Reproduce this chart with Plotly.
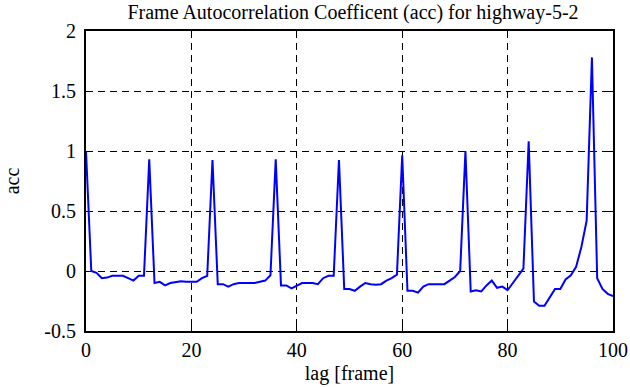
import plotly.graph_objects as go

lags = list(range(0, 101))
acc = [
    1.00, 0.00, -0.015, -0.06, -0.055, -0.04, -0.04, -0.04, -0.06, -0.08,
    -0.04, -0.04, 0.93, -0.10, -0.09, -0.12, -0.10, -0.09, -0.085, -0.09,
    -0.09, -0.09, -0.06, -0.04, 0.925, -0.11, -0.11, -0.13, -0.11, -0.10,
    -0.10, -0.10, -0.10, -0.09, -0.08, -0.035, 0.93, -0.12, -0.12, -0.145,
    -0.12, -0.10, -0.10, -0.10, -0.11, -0.06, -0.04, -0.04, 0.925, -0.15,
    -0.15, -0.165, -0.13, -0.10, -0.11, -0.115, -0.11, -0.08, -0.06, -0.03,
    0.965, -0.165, -0.165, -0.18, -0.13, -0.11, -0.11, -0.11, -0.11, -0.08,
    -0.05, 0.00, 1.00, -0.17, -0.16, -0.17, -0.12, -0.08, -0.14, -0.13,
    -0.16, -0.10, -0.035, 0.02, 1.08, -0.255, -0.29, -0.29, -0.22, -0.15,
    -0.15, -0.07, -0.035, 0.035, 0.20, 0.42, 1.78, -0.06, -0.15, -0.19,
    -0.21,
]
x_ticks = [0, 20, 40, 60, 80, 100]
y_ticks = [-0.5, 0, 0.5, 1, 1.5, 2]
y_tick_labels = ["-0.5", "0", "0.5", "1", "1.5", "2"]

serif = "Liberation Serif"
f20 = dict(family=serif, size=20, color="black")

fig = go.Figure()
fig.add_trace(go.Scatter(x=lags, y=acc, mode="lines",
                         line=dict(color="#0000ff", width=2)))

fig.update_layout(
    width=630, height=387,
    margin=dict(l=86, r=17, t=31, b=56, autoexpand=False),
    paper_bgcolor="white", plot_bgcolor="white",
    showlegend=False,
    font=f20,
    title=dict(text="Frame Autocorrelation Coefficent (acc) for highway-5-2",
               x=353 / 630, xanchor="center", y=1 - 12 / 387,
               yanchor="middle", xref="container", yref="container",
               font=f20),
)
fig.update_xaxes(
    range=[0, 100], tickvals=x_ticks, ticks="inside", ticklen=5,
    tickcolor="black", showline=True, linecolor="black", linewidth=2,
    mirror="ticks", showgrid=True, gridcolor="black", griddash="7px,5px",
    gridwidth=1, zeroline=False, automargin=False, tickfont=f20,
    title=dict(text="lag [frame]", standoff=6, font=f20),
)
fig.update_yaxes(
    range=[-0.5, 2], tickvals=y_ticks, ticktext=y_tick_labels,
    ticks="inside", ticklen=5, tickcolor="black", showline=True,
    linecolor="black", linewidth=2, mirror="ticks", showgrid=True,
    gridcolor="black", griddash="7px,5px", gridwidth=1, zeroline=False,
    automargin=False, ticklabelstandoff=4, tickfont=f20,
    title=dict(text="acc", standoff=19, font=f20),
)
fig.write_html("out.html", config={"displayModeBar": False},
               post_script="document.body.style.margin='0px';")
